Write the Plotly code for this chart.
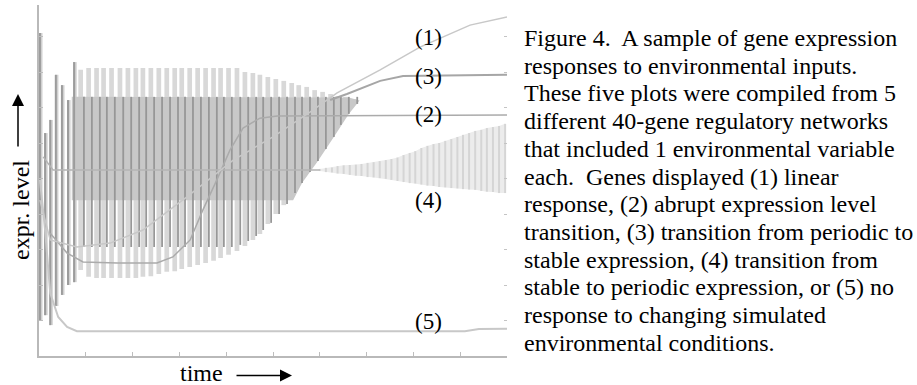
import plotly.graph_objects as go

# ---------------- data (time 0-100, expression 0-~99) ----------------
# oscillating gene (3): one vertical stroke per cycle
cycle_t = [9.6, 11.3, 13.0, 14.5, 16.2, 18.0, 19.7, 21.4, 22.9, 24.6, 26.3, 28.0,
           29.7, 31.2, 32.9, 34.6, 36.3, 38.0, 39.5, 41.2, 43.0, 44.7, 46.4, 47.9,
           49.6, 51.3, 53.0, 54.7, 56.2, 57.9, 59.6, 61.3, 63.0, 64.5, 66.2, 68.0]
dark_hi = [73.0, 73.0, 73.0, 73.0, 73.0, 73.0, 73.0, 73.0, 73.0, 73.0, 73.0, 73.0,
           73.0, 73.0, 73.0, 73.0, 73.0, 73.0, 73.0, 73.0, 73.0, 73.0, 73.0, 73.0,
           73.0, 73.0, 73.0, 73.0, 73.0, 73.0, 73.0, 73.0, 73.0, 73.0, 73.0, 73.0]
dark_lo = [30.7, 30.7, 30.7, 30.7, 30.7, 30.7, 30.7, 30.7, 30.7, 30.7, 30.7, 30.7,
           30.7, 30.7, 30.7, 30.7, 30.7, 30.7, 30.7, 30.7, 31.3, 32.4, 33.8, 35.5,
           37.5, 40.0, 42.8, 45.9, 48.7, 51.8, 54.9, 58.3, 61.7, 65.1, 68.2, 71.0]
light_hi = [80.6, 81.1, 81.1, 81.1, 81.1, 81.1, 81.1, 81.1, 81.1, 81.1, 81.1, 81.1,
            81.1, 81.1, 81.1, 81.1, 81.1, 81.1, 81.1, 81.1, 81.1, 80.0, 79.7, 79.2,
            78.6, 78.0, 77.5, 76.9, 76.3, 75.8, 74.9, 74.4, 73.8, 73.2, 73.0, 72.4]
light_lo = [24.2, 22.3, 22.0, 22.0, 22.0, 22.0, 22.0, 22.0, 22.3, 22.5, 23.1, 23.7,
            23.9, 24.5, 25.1, 25.6, 26.2, 26.8, 27.6, 28.5, 29.6, 31.0, 32.7, 34.4,
            37.2, 40.0, 42.5, 45.1, 48.2, 51.8, 55.2, 58.9, 62.3, 65.6, 68.7, 71.5]

# dense (unresolved) oscillation band
band_t = [7.0, 54.3, 56.2, 59.6, 63.0, 66.2, 68.5]
band_hi = [73.0, 73.0, 73.0, 73.0, 73.0, 72.8, 72.0]
band_lo = [43.9, 43.9, 48.7, 54.9, 61.7, 68.2, 72.0]

# initial transient
trans_t = [0.2, 1.3, 2.4, 3.6, 4.9, 6.2, 7.5]
trans_hi = [91.0, 62.8, 66.5, 79.2, 76.3, 72.1, 82.8]
trans_lo = [10.1, 11.5, 8.7, 14.1, 17.2, 20.0, 20.8]

# gene (4): stable, then growing oscillation
g4_line_t = [0.9, 3.0, 60.0]
g4_line_y = [56.1, 52.4, 52.4]
g4_t = [60.0, 61.3, 62.6, 63.8, 65.1, 66.4, 67.7, 68.9, 70.2, 71.5, 72.8, 74.1,
        75.3, 76.6, 77.9, 79.2, 80.4, 81.7, 83.0, 84.3, 85.5, 86.8, 88.1, 89.4,
        90.6, 91.9, 93.2, 94.5, 95.7, 97.0, 98.3, 99.6]
g4_hi = [52.7, 53.0, 53.1, 53.5, 53.7, 53.8, 53.9, 54.1, 54.4, 54.6, 54.9, 55.2,
         55.5, 55.9, 56.6, 57.2, 57.7, 58.6, 59.2, 59.7, 60.0, 60.6, 61.1, 61.7,
         62.3, 62.8, 63.4, 63.7, 64.2, 64.5, 64.8, 65.4]
g4_lo = [52.1, 51.8, 51.7, 51.4, 51.3, 51.0, 50.8, 50.7, 50.4, 50.3, 50.1, 49.9,
         49.6, 49.3, 49.0, 48.7, 48.6, 48.3, 48.0, 47.9, 47.6, 47.5, 47.3, 47.2,
         47.0, 46.9, 46.8, 46.5, 46.3, 46.2, 45.9, 45.9]

# gene (3) after oscillation stops
g3_t = [62.2, 65.8, 72.9, 77.8, 100.0]
g3_y = [72.1, 73.8, 77.5, 78.9, 79.2]

# gene (1): linear response
g1_t = [0.2, 2.4, 8.1, 15.2, 22.2, 31.6, 41.5, 50.0, 57.9, 63.7, 72.9, 81.4, 92.1, 100.0]
g1_y = [43.9, 32.7, 30.7, 31.8, 35.5, 44.8, 55.2, 61.7, 68.7, 74.1, 80.6, 87.0, 93.2, 95.5]

# gene (2): abrupt transition
g2_t = [2.4, 6.0, 9.4, 16.7, 25.2, 28.6, 32.3, 35.0, 38.0, 40.8, 43.6, 47.2, 50.9, 100.0]
g2_y = [34.6, 29.0, 26.5, 26.2, 26.2, 27.9, 32.7, 41.1, 49.6, 58.0, 64.2, 67.0, 67.6, 67.9]

# gene (5): no response
g5_t = [0.2, 1.3, 2.4, 4.1, 6.0, 8.1, 91.0, 94.0, 100.0]
g5_y = [49.6, 35.5, 17.7, 11.0, 8.2, 7.0, 7.0, 7.6, 7.7]

labels = ["(1)", "(3)", "(2)", "(4)", "(5)"]
label_y = [89.6, 78.6, 67.9, 43.9, 9.6]
label_t = 83.3

tick_vals = [10, 20, 30, 40, 50, 60, 70, 80, 90]

caption = [
    "Figure 4.\u00a0 A sample of gene expression",
    "responses to environmental inputs.",
    "These five plots were compiled from 5",
    "different 40-gene regulatory networks",
    "that included 1 environmental variable",
    "each.\u00a0 Genes displayed (1) linear",
    "response, (2) abrupt expression level",
    "transition, (3) transition from periodic to",
    "stable expression, (4) transition from",
    "stable to periodic expression, or (5) no",
    "response to changing simulated",
    "environmental conditions.",
]

# ---------------- layout geometry ----------------
W, H = 917, 385
L, T, PW, PH = 39, 5, 468, 351
YMAX = 351 / 3.55


def xp(p):
    return (p - L) / PW


def yp(p):
    return (T + PH - p) / PH


def segs(ts, lo, hi):
    xs, ys = [], []
    for t, a, b in zip(ts, lo, hi):
        xs += [t, t, None]
        ys += [a, b, None]
    return xs, ys


SERIF = "Liberation Serif, Times New Roman, serif"

fig = go.Figure()

# light strokes (bar layer, drawn first)
fig.add_trace(go.Bar(x=cycle_t, base=light_lo,
                     y=[h - l for h, l in zip(light_hi, light_lo)],
                     width=1.0, offset=-1.2, marker_color="#d8d8d8",
                     marker_line_width=0, hoverinfo="skip"))
fig.add_trace(go.Bar(x=trans_t, base=trans_lo,
                     y=[h - l for h, l in zip(trans_hi, trans_lo)],
                     width=0.75, offset=-0.2, marker_color="#d0d0d0",
                     marker_line_width=0, hoverinfo="skip"))

# dense band
fig.add_trace(go.Scatter(x=band_t, y=band_lo, mode="lines", line=dict(width=0),
                         hoverinfo="skip"))
fig.add_trace(go.Scatter(x=band_t, y=band_hi, mode="lines", line=dict(width=0),
                         fill="tonexty", fillcolor="#c8c8c8", hoverinfo="skip"))

# gene 4 oscillation band
fig.add_trace(go.Scatter(x=g4_t, y=g4_lo, mode="lines", line=dict(width=0),
                         hoverinfo="skip"))
fig.add_trace(go.Scatter(x=g4_t, y=g4_hi, mode="lines", line=dict(width=0),
                         fill="tonexty", fillcolor="#ececec", hoverinfo="skip"))
sx, sy = segs(g4_t, g4_lo, g4_hi)
fig.add_trace(go.Scatter(x=sx, y=sy, mode="lines",
                         line=dict(color="#d5d5d5", width=2), hoverinfo="skip"))

# dark strokes
sx, sy = segs(trans_t, trans_lo, trans_hi)
fig.add_trace(go.Scatter(x=sx, y=sy, mode="lines",
                         line=dict(color="#9c9c9c", width=2), hoverinfo="skip"))
sx, sy = segs(cycle_t, dark_lo, dark_hi)
fig.add_trace(go.Scatter(x=sx, y=sy, mode="lines",
                         line=dict(color="#979797", width=1.8), hoverinfo="skip"))

# gene lines
fig.add_trace(go.Scatter(x=g4_line_t, y=g4_line_y, mode="lines",
                         line=dict(color="#b4b4b4", width=1.5), hoverinfo="skip"))
fig.add_trace(go.Scatter(x=g5_t, y=g5_y, mode="lines",
                         line=dict(color="#c8c8c8", width=2), hoverinfo="skip"))
fig.add_trace(go.Scatter(x=g2_t, y=g2_y, mode="lines",
                         line=dict(color="#ababab", width=1.5), hoverinfo="skip"))
fig.add_trace(go.Scatter(x=g1_t, y=g1_y, mode="lines",
                         line=dict(color="#c8c8c8", width=1.5), hoverinfo="skip"))
fig.add_trace(go.Scatter(x=g3_t, y=g3_y, mode="lines",
                         line=dict(color="#a6a6a6", width=2), hoverinfo="skip"))

# invisible trace for the right-hand tick axis
fig.add_trace(go.Scatter(x=[0], y=[0], yaxis="y2", mode="markers",
                         marker=dict(opacity=0), hoverinfo="skip"))

ann = []
for lab, ly in zip(labels, label_y):
    ann.append(dict(x=label_t, y=ly, xref="x", yref="y", text=lab, showarrow=False,
                    font=dict(family=SERIF, size=23, color="black")))

for i, line in enumerate(caption):
    ann.append(dict(x=xp(522), y=yp(38 + 27.7 * i), xref="paper", yref="paper",
                    text=line, showarrow=False, xanchor="left", yanchor="middle",
                    font=dict(family=SERIF, size=24, color="black")))

ann.append(dict(x=xp(21), y=yp(210), xref="paper", yref="paper", text="expr. level",
                textangle=-90, showarrow=False, xanchor="center", yanchor="middle",
                font=dict(family=SERIF, size=24, color="black")))
ann.append(dict(x=xp(201), y=yp(373), xref="paper", yref="paper", text="time",
                showarrow=False, xanchor="center", yanchor="middle",
                font=dict(family=SERIF, size=24, color="black")))
ann.append(dict(x=xp(18), y=yp(94), xref="paper", yref="paper", text="",
                showarrow=True, ax=0, ay=54, arrowhead=2, arrowsize=1.6,
                arrowwidth=1.5, arrowcolor="black", standoff=0))
ann.append(dict(x=xp(292), y=yp(375.5), xref="paper", yref="paper", text="",
                showarrow=True, ax=-57, ay=0, arrowhead=2, arrowsize=1.6,
                arrowwidth=1.5, arrowcolor="black", standoff=0))

fig.update_layout(
    width=W, height=H,
    margin=dict(l=L, r=W - L - PW, t=T, b=H - T - PH),
    paper_bgcolor="white", plot_bgcolor="white",
    showlegend=False, barmode="overlay",
    xaxis=dict(range=[0, 100], showgrid=False, zeroline=False, showline=True,
               linecolor="#b9b9b9", linewidth=2, ticks="inside", ticklen=4,
               tickwidth=1, tickcolor="#bdbdbd", tickvals=tick_vals,
               showticklabels=False),
    yaxis=dict(range=[0, YMAX], showgrid=False, zeroline=False, showline=True,
               linecolor="#b9b9b9", linewidth=2, ticks="inside", ticklen=4,
               tickwidth=1, tickcolor="#bdbdbd", tickvals=tick_vals,
               showticklabels=False),
    yaxis2=dict(range=[0, YMAX], overlaying="y", side="right", showgrid=False,
                zeroline=False, showline=False, ticks="inside", ticklen=3,
                tickwidth=1, tickcolor="#c4c4c4", tickvals=tick_vals,
                showticklabels=False),
    annotations=ann,
)

fig.write_html("out.html")
